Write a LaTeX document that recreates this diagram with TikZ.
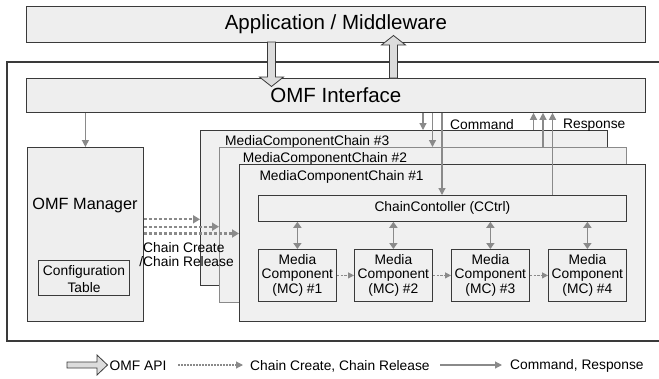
\documentclass[tikz,border=0pt]{standalone}
\usepackage{fontspec}
\setmainfont{Liberation Sans}
\usetikzlibrary{arrows.meta,calc}
\definecolor{bfill}{HTML}{EEEEEE}
\definecolor{cfill}{HTML}{F0F0F0}
\definecolor{gline}{HTML}{8A8A8A}
\definecolor{dline}{HTML}{3A3A3A}
\definecolor{afill}{HTML}{DCDCDC}
\newcommand{\bigfnt}{\fontsize{20.5}{24}\selectfont}
\newcommand{\midfnt}{\fontsize{16.3}{19}\selectfont}
\newcommand{\smfnt}{\fontsize{13.8}{14.5}\selectfont}
\begin{document}
\begin{tikzpicture}[x=1pt,y=-1pt,
  box/.style={draw=dline, fill=bfill, line width=0.8pt, inner sep=0pt, anchor=north west},
  chainbox/.style={box, fill=cfill},
  innerbox/.style={box, fill=cfill, align=center, font=\smfnt},
  lbl/.style={inner sep=0pt, font=\smfnt},
  garrow/.style={draw=gline, line width=1.2pt, -{Triangle[length=7pt,width=7pt]}},
  dblarrow/.style={draw=gline, line width=1.5pt, {Triangle[length=6pt,width=8pt]}-{Triangle[length=6pt,width=8pt]}},
  darrow/.style={draw=gline, line width=2.2pt, dash pattern=on 3.5pt off 1.5pt, -{Triangle[length=7pt,width=8pt]}},
  mcarrow/.style={draw=gline, line width=1.1pt, dash pattern=on 2.5pt off 1.2pt, -{Triangle[length=6pt,width=6pt]}},
  apiarrow/.style={draw=dline, fill=afill, line width=0.8pt, line join=miter}
]
\useasboundingbox (0,0) rectangle (659,378);
\fill[white] (0,0) rectangle (659,378);

% outer frame (open to the right)
\draw[dline, line width=1.3pt] (664,62) -- (7,62) -- (7,341) -- (664,341);

% top boxes
\node[box, minimum width=619, minimum height=36, font=\bigfnt] (app) at (26,6) {Application / Middleware};
\node[box, minimum width=619, minimum height=34, font=\bigfnt] (iface) at (26,78) {OMF Interface};

% OMF manager
\node[box, minimum width=116, minimum height=174] (mgr) at (27,147) {};
\node[lbl, font=\midfnt] (mgrt) at (85,205) {OMF Manager};
\node[box, minimum width=91, minimum height=35] (cfg) at (38,260) {};
\node[lbl, align=center, font=\fontsize{13.8}{16.5}\selectfont] (cfgt) at (84,279) {Configuration\\Table};

% chains
\node[chainbox, minimum width=407, minimum height=155] (ch3) at (200,130) {};
\node[lbl, anchor=west] (l3) at (225,141.7) {MediaComponentChain \#3};
\node[chainbox, draw=gline, minimum width=407, minimum height=155] (ch2) at (219,147) {};
\node[lbl, anchor=west] (l2) at (242.7,159.3) {MediaComponentChain \#2};
\node[chainbox, minimum width=406, minimum height=157] (ch1) at (239,164) {};
\node[lbl, anchor=west] (l1) at (259.3,176.7) {MediaComponentChain \#1};

\node[innerbox, minimum width=368, minimum height=26] (cctrl) at (258,195) {ChainContoller (CCtrl)};
\node[innerbox, minimum width=78, minimum height=52] (mc1) at (258,249) {Media\\Component\\(MC) \#1};
\node[innerbox, minimum width=78, minimum height=52] (mc2) at (354,249) {Media\\Component\\(MC) \#2};
\node[innerbox, minimum width=78, minimum height=52] (mc3) at (451,249) {Media\\Component\\(MC) \#3};
\node[innerbox, minimum width=78, minimum height=52] (mc4) at (548,249) {Media\\Component\\(MC) \#4};

% OMF API arrows
\draw[apiarrow] (267.5,42) -- (275.5,42) -- (275.5,77) -- (283.5,77) -- (271.5,86.5) -- (259.5,77) -- (267.5,77) -- cycle;
\draw[apiarrow] (389.5,78) -- (397.5,78) -- (397.5,45) -- (405.5,45) -- (393.5,35.5) -- (381.5,45) -- (389.5,45) -- cycle;

% interface -> manager
\draw[garrow] (iface.south -| mgr.north) -- (mgr.north);

% commands
\draw[garrow] (iface.south -| 423,0) -- (ch3.north -| 423,0);
\draw[garrow] (iface.south -| 432.5,0) -- (ch2.north -| 432.5,0);
\draw[garrow] (iface.south -| 442,0) -- (cctrl.north -| 442,0);
% responses
\draw[garrow] (ch3.north -| 533.5,0) -- (iface.south -| 533.5,0);
\draw[garrow] (ch2.north -| 543,0) -- (iface.south -| 543,0);
\draw[garrow] (cctrl.north -| 552.5,0) -- (iface.south -| 552.5,0);
\node[lbl, anchor=west] (cmdt) at (450,125) {Command};
\node[lbl, anchor=west] (rspt) at (563,125) {Response};

% chain create / release
\draw[darrow] (mgr.east |- 0,219.3) -- (ch3.west |- 0,219.3);
\draw[darrow] (mgr.east |- 0,226.7) -- (ch2.west |- 0,226.7);
\draw[darrow] (mgr.east |- 0,233.5) -- (ch1.west |- 0,233.5);
\node[lbl, anchor=north west, align=left] (cct) at (143,242) {Chain Create\\\llap{/}Chain Release};

% cctrl <-> mc
\draw[dblarrow] (cctrl.south -| mc1.north) -- (mc1.north);
\draw[dblarrow] (cctrl.south -| mc2.north) -- (mc2.north);
\draw[dblarrow] (cctrl.south -| mc3.north) -- (mc3.north);
\draw[dblarrow] (cctrl.south -| mc4.north) -- (mc4.north);
% mc chain
\draw[mcarrow] (mc1.east) -- (mc2.west);
\draw[mcarrow] (mc2.east) -- (mc3.west);
\draw[mcarrow] (mc3.east) -- (mc4.west);

% legend
\draw[apiarrow] (67,362) -- (97,362) -- (97,355) -- (107.5,365) -- (97,375) -- (97,368) -- (67,368) -- cycle;
\node[lbl, anchor=west] (lg1) at (109.5,366) {OMF API};
\coordinate (d1) at (178,365);
\coordinate (d2) at (243,365);
\draw[draw=gline, line width=1.1pt, dash pattern=on 2pt off 1pt, -{Triangle[length=7pt,width=7pt]}] (d1) -- (d2);
\node[lbl, anchor=west] (lg2) at (250,366) {Chain Create, Chain Release};
\coordinate (s1) at (440,365);
\coordinate (s2) at (502,365);
\draw[draw=gline, line width=1.1pt, -{Triangle[length=7pt,width=7pt]}] (s1) -- (s2);
\node[lbl, anchor=west] (lg3) at (510,366) {Command, Response};
\end{tikzpicture}
\end{document}
